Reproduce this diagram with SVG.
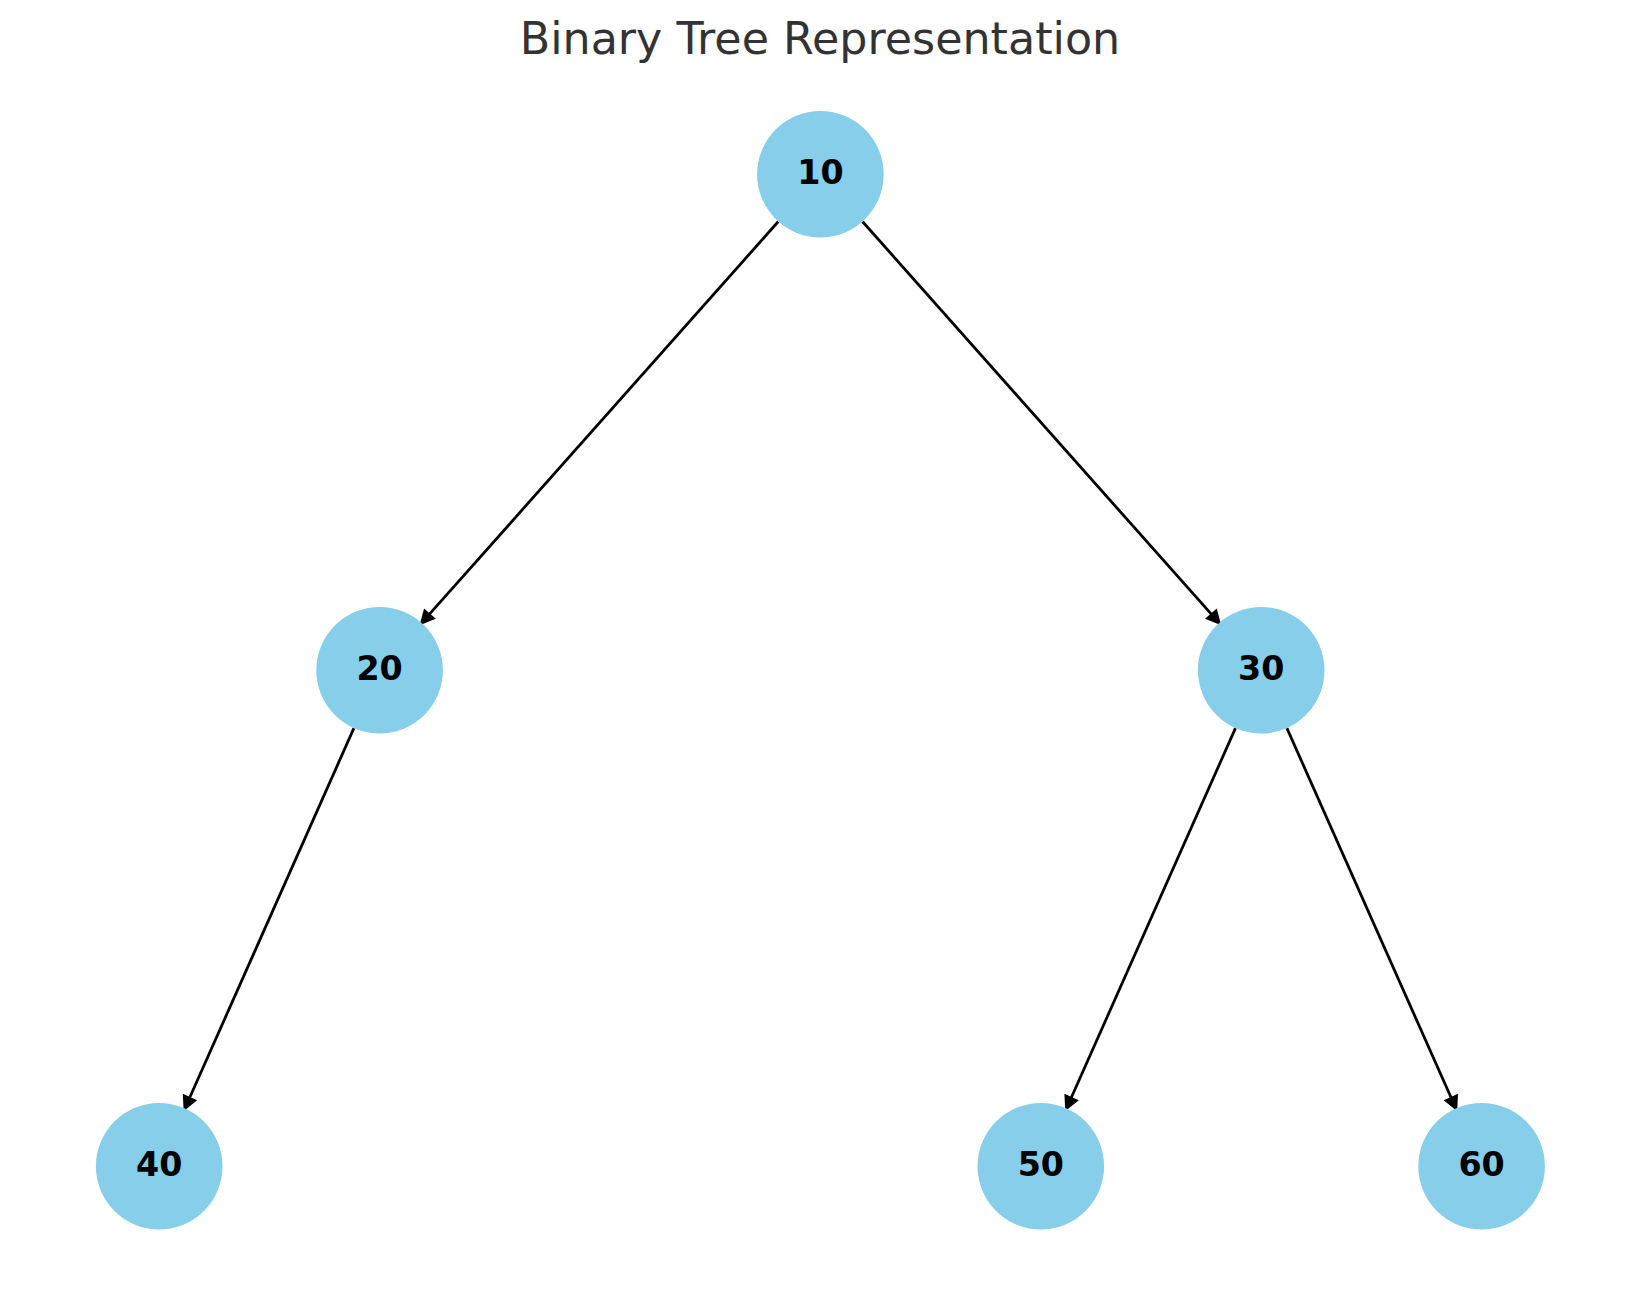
<svg xmlns="http://www.w3.org/2000/svg" width="1639" height="1290" viewBox="0 0 1639 1290">
<style>
.node circle{fill:#87CEEB;}
.node text{font-family:"DejaVu Sans","Liberation Sans",sans-serif;font-weight:bold;font-size:33.3px;fill:#000;text-anchor:middle;}
.edge{stroke:#000;stroke-width:2.78;fill:none;marker-end:url(#arrow);}
.title{font-family:"DejaVu Sans","Liberation Sans",sans-serif;font-size:44.4px;fill:#333333;text-anchor:middle;}
</style>
<defs>
<marker id="arrow" markerUnits="userSpaceOnUse" markerWidth="30" markerHeight="30" viewBox="-5 -15 30 30" refX="0" refY="0" orient="auto">
<path d="M11.1,0 L0,-5.6 L0,5.6 Z" fill="#000" stroke="#000" stroke-width="2.78" stroke-linejoin="miter"/>
</marker>
</defs>
<rect width="1639" height="1290" fill="#fff"/>
<text class="title" x="820" y="54">Binary Tree Representation</text>
<g id="connectors">
<line class="edge" x1="778.35" y1="221.52" x2="429.02" y2="614.68"/>
<line class="edge" x1="862.45" y1="221.52" x2="1211.78" y2="614.68"/>
<line class="edge" x1="353.9" y1="728.15" x2="189.41" y2="1098.31"/>
<line class="edge" x1="1235.5" y1="728.15" x2="1071.01" y2="1098.31"/>
<line class="edge" x1="1286.9" y1="728.15" x2="1451.39" y2="1098.31"/>
</g>
<g id="node-10" class="node"><circle cx="820.4" cy="174.2" r="63.3"/><text x="820.4" y="184.2">10</text></g>
<g id="node-20" class="node"><circle cx="379.6" cy="670.3" r="63.3"/><text x="379.6" y="680.3">20</text></g>
<g id="node-30" class="node"><circle cx="1261.2" cy="670.3" r="63.3"/><text x="1261.2" y="680.3">30</text></g>
<g id="node-40" class="node"><circle cx="159.2" cy="1166.3" r="63.3"/><text x="159.2" y="1176.3">40</text></g>
<g id="node-50" class="node"><circle cx="1040.8" cy="1166.3" r="63.3"/><text x="1040.8" y="1176.3">50</text></g>
<g id="node-60" class="node"><circle cx="1481.6" cy="1166.3" r="63.3"/><text x="1481.6" y="1176.3">60</text></g>
</svg>
